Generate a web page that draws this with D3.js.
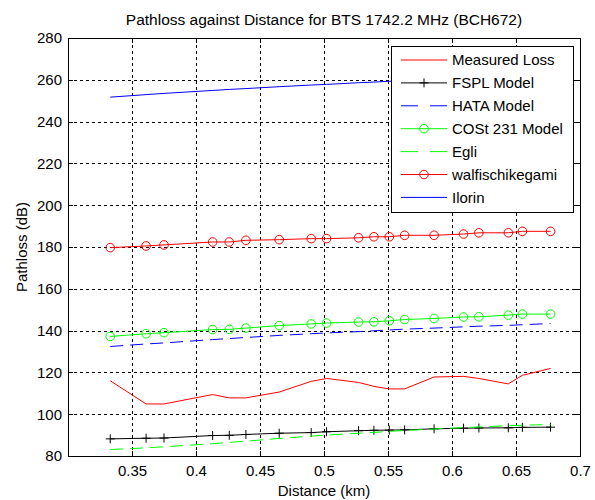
<!DOCTYPE html>
<html>
<head>
<meta charset="utf-8">
<script src="https://cdn.jsdelivr.net/npm/d3@7"></script>
<style>
  body { margin: 0; background: #fff; }
  svg text { font-family: "Liberation Sans", Arial, sans-serif; fill: #000; }
</style>
</head>
<body>
<div id="chart"></div>
<script>
// distance of each sample (km)
var distance = [0.333, 0.361, 0.375, 0.413, 0.426, 0.439, 0.465, 0.490, 0.502, 0.527,
                0.539, 0.551, 0.563, 0.586, 0.609, 0.621, 0.644, 0.655, 0.677];

var measuredLoss = [116.0, 104.9, 104.9, 109.4, 107.8, 107.8, 110.6, 115.7, 117.1, 115.2,
                    113.3, 112.1, 112.1, 117.8, 118.1, 117.1, 114.5, 118.6, 121.9];
var fspl = [88.2, 88.5, 88.6, 89.8, 89.9, 90.3, 90.9, 91.2, 91.6, 92.1,
            92.3, 92.4, 92.5, 93.0, 93.3, 93.4, 93.5, 93.7, 93.8];
var hata = [132.4, 133.6, 134.1, 135.7, 136.2, 136.7, 137.7, 138.5, 138.9, 139.5,
            139.9, 140.3, 140.7, 141.2, 141.8, 142.1, 142.5, 142.8, 143.4];
var cost231 = [137.2, 138.5, 139.0, 140.5, 140.6, 141.2, 142.4, 143.2, 143.6, 144.1,
               144.2, 144.7, 145.3, 145.8, 146.5, 146.6, 147.4, 147.9, 147.9];
var egli = [83.1, 83.9, 84.4, 85.9, 86.5, 87.1, 88.4, 89.5, 90.0, 90.9,
            91.3, 91.8, 92.2, 92.9, 93.6, 93.9, 94.5, 94.7, 95.1];
var walfisch = [179.7, 180.5, 181.0, 182.4, 182.4, 183.2, 183.5, 184.0, 184.0, 184.4,
                184.9, 184.9, 185.6, 185.6, 186.2, 186.8, 186.8, 187.5, 187.5];
var ilorin = [251.7, 252.9, 253.5, 254.9, 255.4, 255.8, 256.7, 257.5, 257.8, 258.6,
              258.9, 259.3, 259.6, 260.2, 260.8, 261.1, 261.6, 261.9, 262.4];

var xTicks = [0.35, 0.4, 0.45, 0.5, 0.55, 0.6, 0.65, 0.7];
var xTickLabels = ["0.35", "0.4", "0.45", "0.5", "0.55", "0.6", "0.65", "0.7"];
var yTicks = [80, 100, 120, 140, 160, 180, 200, 220, 240, 260, 280];

var series = [
    { name: "Measured Loss",  values: measuredLoss, color: "#ff0000", dash: null, marker: null },
    { name: "FSPL Model",     values: fspl,         color: "#000000", dash: null, marker: "plus" },
    { name: "HATA Model",     values: hata,         color: "#0000ff", dash: "13,7", marker: null },
    { name: "COSt 231 Model", values: cost231,      color: "#00ff00", dash: null, marker: "circle" },
    { name: "Egli",           values: egli,         color: "#00ff00", dash: "13,7", marker: null },
    { name: "walfischikegami", values: walfisch,    color: "#ff0000", dash: null, marker: "circle" },
    { name: "Ilorin",         values: ilorin,       color: "#0000ff", dash: null, marker: null }
];

var margin = { left: 68, right: 15, top: 38, bottom: 44 };
var width = 595 - margin.left - margin.right;
var height = 500 - margin.top - margin.bottom;

var svg = d3.select("#chart").append("svg")
    .attr("width", 595)
    .attr("height", 500);

var g = svg.append("g")
    .attr("transform", "translate(" + margin.left + "," + margin.top + ")");

var x = d3.scaleLinear().domain([0.3, 0.7]).range([0, width]);
var y = d3.scaleLinear().domain([80, 280]).range([height, 0]);

// dotted grid
g.append("g")
    .attr("class", "grid")
    .attr("transform", "translate(0," + height + ")")
    .call(d3.axisBottom(x).tickValues(xTicks).tickSize(-height).tickFormat(""))
    .call(function(s){ s.select(".domain").remove(); });
g.append("g")
    .attr("class", "grid")
    .call(d3.axisLeft(y).tickValues(yTicks).tickSize(-width).tickFormat(""))
    .call(function(s){ s.select(".domain").remove(); });
g.selectAll(".grid line")
    .attr("stroke", "#000")
    .attr("stroke-dasharray", "3,3")
    .attr("shape-rendering", "crispEdges");

// series
var line = d3.line()
    .x(function(d, i){ return x(distance[i]); })
    .y(function(d){ return y(d); });

series.forEach(function(s){
    g.append("path")
        .datum(s.values)
        .attr("fill", "none")
        .attr("stroke", s.color)
        .attr("stroke-width", 1)
        .attr("stroke-dasharray", s.dash)
        .attr("d", line);

    if (s.marker === "circle") {
        g.selectAll(null).data(s.values).enter().append("circle")
            .attr("cx", function(d, i){ return x(distance[i]); })
            .attr("cy", function(d){ return y(d); })
            .attr("r", 4.3)
            .attr("fill", "none")
            .attr("stroke", s.color);
    } else if (s.marker === "plus") {
        g.selectAll(null).data(s.values).enter().append("path")
            .attr("d", function(d, i){
                var cx = x(distance[i]), cy = y(d);
                return "M" + (cx - 4.5) + "," + cy + "H" + (cx + 4.5) +
                       "M" + cx + "," + (cy - 4.5) + "V" + (cy + 4.5);
            })
            .attr("stroke", s.color)
            .attr("fill", "none");
    }
});

// axes with inward ticks on all sides
var xAxis = g.append("g")
    .attr("class", "x axis")
    .attr("transform", "translate(0," + height + ")")
    .call(d3.axisBottom(x).tickValues(xTicks).tickSize(-5).tickPadding(9)
        .tickFormat(function(d, i){ return xTickLabels[i]; }));
var yAxis = g.append("g")
    .attr("class", "y axis")
    .call(d3.axisLeft(y).tickValues(yTicks).tickSize(-5).tickPadding(6));
g.append("g")
    .call(d3.axisTop(x).tickValues(xTicks).tickSize(-5).tickFormat(""));
g.append("g")
    .attr("transform", "translate(" + width + ",0)")
    .call(d3.axisRight(y).tickValues(yTicks).tickSize(-5).tickFormat(""));

g.selectAll(".domain, .tick line").attr("stroke", "#000").attr("shape-rendering", "crispEdges");
g.selectAll(".tick text").style("font-size", "15px").attr("fill", "#000");

g.append("rect")
    .attr("width", width).attr("height", height)
    .attr("fill", "none").attr("stroke", "#000")
    .attr("shape-rendering", "crispEdges");

// legend
var legend = svg.append("g").attr("transform", "translate(391,46)");
legend.append("rect")
    .attr("width", 182).attr("height", 166)
    .attr("fill", "#fff").attr("stroke", "#000")
    .attr("shape-rendering", "crispEdges");

var rows = legend.selectAll(".row").data(series).enter().append("g")
    .attr("class", "row")
    .attr("transform", function(d, i){ return "translate(0," + (14 + i * 22.9) + ")"; });
rows.append("line")
    .attr("x1", 10).attr("x2", 56)
    .attr("stroke", function(d){ return d.color; })
    .attr("stroke-dasharray", function(d){ return d.dash ? "17,12" : null; });
rows.filter(function(d){ return d.marker === "circle"; }).append("circle")
    .attr("cx", 33).attr("r", 4.3)
    .attr("fill", "none").attr("stroke", function(d){ return d.color; });
rows.filter(function(d){ return d.marker === "plus"; }).append("path")
    .attr("d", "M28.5,0H37.5M33,-4.5V4.5")
    .attr("stroke", function(d){ return d.color; });
rows.append("text")
    .attr("x", 61).attr("dy", "0.35em")
    .style("font-size", "15px")
    .text(function(d){ return d.name; });

// titles
svg.append("text")
    .attr("x", margin.left + width / 2).attr("y", 25)
    .attr("text-anchor", "middle")
    .style("font-size", "15.5px")
    .text("Pathloss against Distance for BTS 1742.2 MHz (BCH672)");
svg.append("text")
    .attr("x", margin.left + width / 2).attr("y", 496)
    .attr("text-anchor", "middle")
    .style("font-size", "15px")
    .text("Distance (km)");
svg.append("text")
    .attr("transform", "translate(27," + (margin.top + height / 2) + ") rotate(-90)")
    .attr("text-anchor", "middle")
    .style("font-size", "15px")
    .text("Pathloss (dB)");
</script>
</body>
</html>
